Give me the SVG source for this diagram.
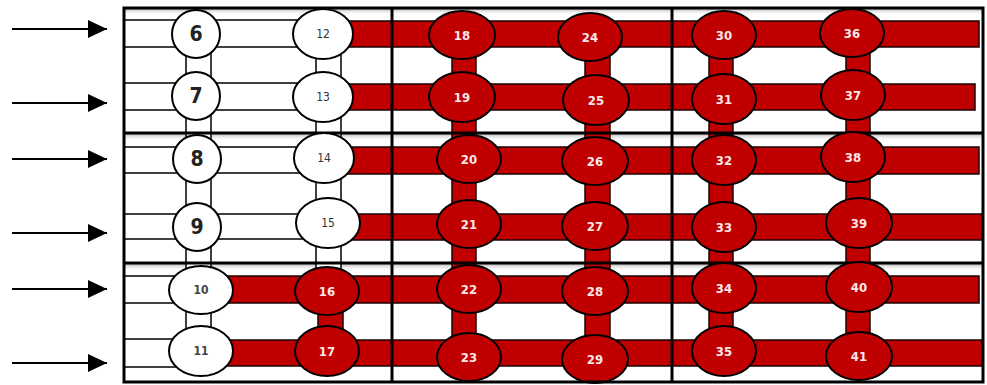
<svg xmlns="http://www.w3.org/2000/svg" width="987" height="385" viewBox="0 0 987 385">
<defs>
<linearGradient id="sh" x1="0" y1="0" x2="0" y2="1">
<stop offset="0" stop-color="#b8b8b8"/>
<stop offset="1" stop-color="#ffffff" stop-opacity="0"/>
</linearGradient>
<marker id="ah" markerUnits="userSpaceOnUse" markerWidth="20" markerHeight="18" refX="19" refY="9" orient="auto">
<path d="M0,0 L19,9 L0,18 Z" fill="#000"/>
</marker>
</defs>
<style>
.wb{fill:#fff;stroke:#000;stroke-width:1.5}
.rb{fill:#c00000;stroke:#1a0000;stroke-width:1.5}
.wn{fill:#fff;stroke:#000;stroke-width:2}
.rn{fill:#c00000;stroke:#000;stroke-width:2}
.div{stroke:#000;stroke-width:3}
.arr{stroke:#000;stroke-width:2;marker-end:url(#ah)}
text{font-family:"Liberation Sans Narrow","DejaVu Sans Condensed","Liberation Sans",Arial,sans-serif;font-stretch:condensed;text-anchor:middle;dominant-baseline:central}
.big{font-size:21px;font-weight:bold;fill:#222}
.sm{font-size:12px;fill:#333}
.smb{font-size:12px;font-weight:bold;fill:#444}
.rt{font-size:13px;font-weight:bold;fill:#fbe8e8}
</style>
<rect x="0" y="0" width="987" height="385" fill="#fff"/>
<g id="connectors">
<rect x="125" y="9" width="858" height="6" fill="url(#sh)"/>
<rect x="125" y="134" width="858" height="7" fill="url(#sh)"/>
<rect x="125" y="264" width="858" height="7" fill="url(#sh)"/>
<rect class="wb" x="186" y="40" width="25" height="300"/>
<rect class="wb" x="316" y="40" width="25" height="260"/>
<rect class="wb" x="124" y="20" width="216" height="27"/>
<rect class="wb" x="124" y="83" width="216" height="27"/>
<rect class="wb" x="124" y="147" width="216" height="26"/>
<rect class="wb" x="124" y="214" width="216" height="25"/>
<rect class="wb" x="124" y="276" width="80" height="27"/>
<rect class="wb" x="124" y="339" width="80" height="28"/>
<rect class="rb" x="340" y="21" width="639" height="26"/>
<rect class="rb" x="340" y="84" width="635" height="26"/>
<rect class="rb" x="340" y="147" width="639" height="27"/>
<rect class="rb" x="340" y="214" width="642" height="26"/>
<rect class="rb" x="204" y="276" width="775" height="27"/>
<rect class="rb" x="204" y="340" width="778" height="26"/>
<rect class="rb" x="318" y="295" width="25" height="52"/>
<rect class="rb" x="452" y="40" width="24" height="312"/>
<rect class="rb" x="585" y="42" width="25" height="312"/>
<rect class="rb" x="709" y="40" width="24" height="306"/>
<rect class="rb" x="846" y="38" width="24" height="314"/>
</g>
<g id="frame">
<line class="div" x1="392" y1="8" x2="392" y2="382"/>
<line class="div" x1="672" y1="8" x2="672" y2="382"/>
<line class="div" x1="124" y1="133" x2="984" y2="133"/>
<line class="div" x1="124" y1="263" x2="984" y2="263"/>
</g>
<g id="n6"><circle class="wn" cx="196" cy="34" r="24"/><text class="big" x="196" y="34">6</text></g>
<g id="n7"><circle class="wn" cx="196" cy="96" r="24"/><text class="big" x="196" y="96">7</text></g>
<g id="n8"><circle class="wn" cx="197" cy="159" r="24"/><text class="big" x="197" y="159">8</text></g>
<g id="n9"><circle class="wn" cx="197" cy="227" r="24"/><text class="big" x="197" y="227">9</text></g>
<g id="n10"><ellipse class="wn" cx="201" cy="290" rx="32" ry="24"/><text class="smb" x="201" y="290">10</text></g>
<g id="n11"><ellipse class="wn" cx="201" cy="351" rx="32" ry="25"/><text class="smb" x="201" y="351">11</text></g>
<g id="n12"><ellipse class="wn" cx="323" cy="34" rx="30" ry="25"/><text class="sm" x="323" y="34">12</text></g>
<g id="n13"><ellipse class="wn" cx="323" cy="97" rx="30" ry="25"/><text class="sm" x="323" y="97">13</text></g>
<g id="n14"><ellipse class="wn" cx="324" cy="158" rx="30" ry="25"/><text class="sm" x="324" y="158">14</text></g>
<g id="n15"><ellipse class="wn" cx="328" cy="223" rx="32" ry="25"/><text class="sm" x="328" y="223">15</text></g>
<g id="n16"><ellipse class="rn" cx="327" cy="291" rx="32" ry="24"/><text class="rt" x="327" y="291">16</text></g>
<g id="n17"><ellipse class="rn" cx="327" cy="351" rx="32" ry="25"/><text class="rt" x="327" y="351">17</text></g>
<g id="n18"><ellipse class="rn" cx="462" cy="35" rx="33" ry="24"/><text class="rt" x="462" y="35">18</text></g>
<g id="n19"><ellipse class="rn" cx="462" cy="97" rx="33" ry="25"/><text class="rt" x="462" y="97">19</text></g>
<g id="n20"><ellipse class="rn" cx="469" cy="159" rx="32" ry="24"/><text class="rt" x="469" y="159">20</text></g>
<g id="n21"><ellipse class="rn" cx="469" cy="224" rx="32" ry="24"/><text class="rt" x="469" y="224">21</text></g>
<g id="n22"><ellipse class="rn" cx="469" cy="289" rx="32" ry="24"/><text class="rt" x="469" y="289">22</text></g>
<g id="n23"><ellipse class="rn" cx="469" cy="357" rx="32" ry="24"/><text class="rt" x="469" y="357">23</text></g>
<g id="n24"><ellipse class="rn" cx="590" cy="37" rx="32" ry="24"/><text class="rt" x="590" y="37">24</text></g>
<g id="n25"><ellipse class="rn" cx="596" cy="100" rx="33" ry="25"/><text class="rt" x="596" y="100">25</text></g>
<g id="n26"><ellipse class="rn" cx="595" cy="161" rx="33" ry="24"/><text class="rt" x="595" y="161">26</text></g>
<g id="n27"><ellipse class="rn" cx="595" cy="226" rx="33" ry="24"/><text class="rt" x="595" y="226">27</text></g>
<g id="n28"><ellipse class="rn" cx="595" cy="291" rx="33" ry="24"/><text class="rt" x="595" y="291">28</text></g>
<g id="n29"><ellipse class="rn" cx="595" cy="359" rx="33" ry="24"/><text class="rt" x="595" y="359">29</text></g>
<g id="n30"><ellipse class="rn" cx="724" cy="35" rx="32" ry="24"/><text class="rt" x="724" y="35">30</text></g>
<g id="n31"><ellipse class="rn" cx="724" cy="99" rx="32" ry="25"/><text class="rt" x="724" y="99">31</text></g>
<g id="n32"><ellipse class="rn" cx="724" cy="160" rx="32" ry="25"/><text class="rt" x="724" y="160">32</text></g>
<g id="n33"><ellipse class="rn" cx="724" cy="227" rx="32" ry="25"/><text class="rt" x="724" y="227">33</text></g>
<g id="n34"><ellipse class="rn" cx="724" cy="288" rx="32" ry="25"/><text class="rt" x="724" y="288">34</text></g>
<g id="n35"><ellipse class="rn" cx="724" cy="351" rx="32" ry="25"/><text class="rt" x="724" y="351">35</text></g>
<g id="n36"><ellipse class="rn" cx="852" cy="33" rx="32" ry="24"/><text class="rt" x="852" y="33">36</text></g>
<g id="n37"><ellipse class="rn" cx="853" cy="95" rx="32" ry="25"/><text class="rt" x="853" y="95">37</text></g>
<g id="n38"><ellipse class="rn" cx="853" cy="157" rx="32" ry="25"/><text class="rt" x="853" y="157">38</text></g>
<g id="n39"><ellipse class="rn" cx="859" cy="223" rx="33" ry="25"/><text class="rt" x="859" y="223">39</text></g>
<g id="n40"><ellipse class="rn" cx="859" cy="287" rx="33" ry="25"/><text class="rt" x="859" y="287">40</text></g>
<g id="n41"><ellipse class="rn" cx="859" cy="356" rx="33" ry="24"/><text class="rt" x="859" y="356">41</text></g>
<rect x="124" y="8" width="859" height="374" fill="none" stroke="#000" stroke-width="3"/>
<g id="arrows">
<line class="arr" x1="12" y1="29" x2="107" y2="29"/>
<line class="arr" x1="12" y1="103" x2="107" y2="103"/>
<line class="arr" x1="12" y1="159" x2="107" y2="159"/>
<line class="arr" x1="12" y1="233" x2="107" y2="233"/>
<line class="arr" x1="12" y1="289" x2="107" y2="289"/>
<line class="arr" x1="12" y1="363" x2="107" y2="363"/>
</g>
</svg>
